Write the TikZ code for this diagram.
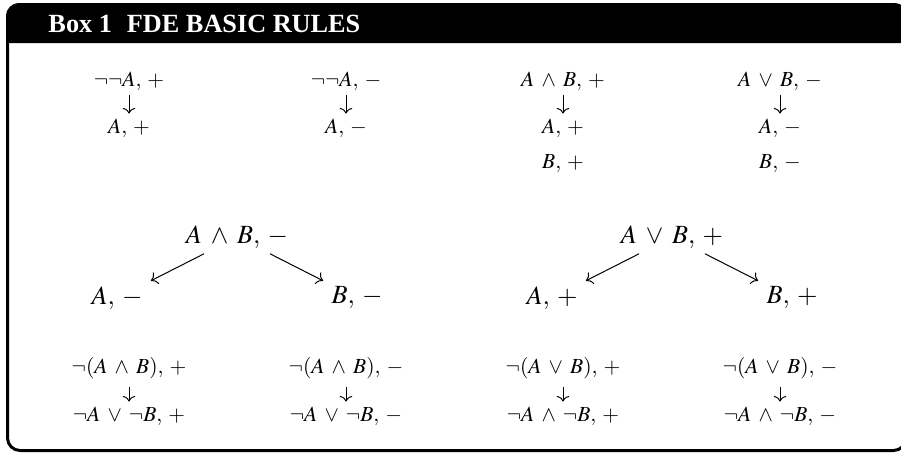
\documentclass[tikz,border=0pt]{standalone}
\usepackage{mathptmx}
\usepackage{amsmath}
\usepackage[no-math]{fontspec}
\setmainfont{Liberation Serif}
\usetikzlibrary{arrows.meta}
\medmuskip=6mu plus 2mu minus 4mu
\thinmuskip=5mu

\begin{document}
\begin{tikzpicture}[x=0.4pt,y=-0.4pt,
  sm/.style={font=\fontsize{8.6}{10}\selectfont},
  lg/.style={font=\fontsize{10.5}{12}\selectfont},
  dn/.style={-{To[length=2.2pt,width=5pt]},shorten <=5.4pt,shorten >=5.8pt},
  dnb/.style={-{To[length=2.2pt,width=5pt]},shorten <=7.6pt,shorten >=5.8pt},
  sl/.style={->,shorten <=14.8pt,shorten >=15.2pt}]
  \useasboundingbox (0,0) rectangle (901,454);
  \clip (0,0) rectangle (901,454);
  % frame and title bar
  \draw[line width=1.2pt,rounded corners=5pt] (7.5,4.5) rectangle (906,450.5);
  \fill (6,43) [rounded corners=5.2pt] -- (6,3) -- (907.5,3) [sharp corners] -- (907.5,43) -- cycle;
  \node[anchor=base west,inner sep=0pt,text=white,font=\fontsize{10.5}{12}\selectfont\bfseries] (title) at (48,32) {Box 1\hspace{6pt}FDE BASIC RULES};
  % double negation
  \foreach \x/\sg/\n in {129/+/p,346/-/m}{
    \node[sm] (nn\n) at (\x,81) {$\neg\neg A, \sg$};
    \node[sm] (nn\n a) at (\x,128) {$A, \sg$};
    \draw[dn] (nn\n.center) -- (nn\n a.center);}
  % conjunction +, disjunction -
  \foreach \x/\op/\sg/\n in {563/\wedge/+/cp,780/\vee/-/dm}{
    \node[sm] (\n) at (\x,81) {$A \op B, \sg$};
    \node[sm] (\n a) at (\x,128) {$A, \sg$};
    \node[sm] (\n b) at (\x,164) {$B, \sg$};
    \draw[dn] (\n.center) -- (\n a.center);}
  % branching rules
  \foreach \x/\op/\sg/\n in {237/\wedge/-/cm,672/\vee/+/dp}{
    \node[lg] (\n) at (\x,237) {$A \op B, \sg$};
    \node[lg] (\n a) at (\x-120,298) {$A, \sg$};
    \node[lg] (\n b) at (\x+120,298) {$B, \sg$};
    \draw[sl] (\n.center) -- (\n a.center);
    \draw[sl] (\n.center) -- (\n b.center);}
  % de Morgan
  \foreach \x/\p/\q/\n in {129/{\neg(A \wedge B), +}/{\neg A \vee \neg B, +}/ncp,
                          346/{\neg(A \wedge B), -}/{\neg A \vee \neg B, -}/ncm,
                          563/{\neg(A \vee B), +}/{\neg A \wedge \neg B, +}/ndp,
                          780/{\neg(A \vee B), -}/{\neg A \wedge \neg B, -}/ndm}{
    \node[sm] (\n) at (\x,368) {$\p$};
    \node[sm] (\n a) at (\x,416) {$\q$};
    \draw[dnb] (\n.center) -- (\n a.center);}
\end{tikzpicture}
\end{document}
